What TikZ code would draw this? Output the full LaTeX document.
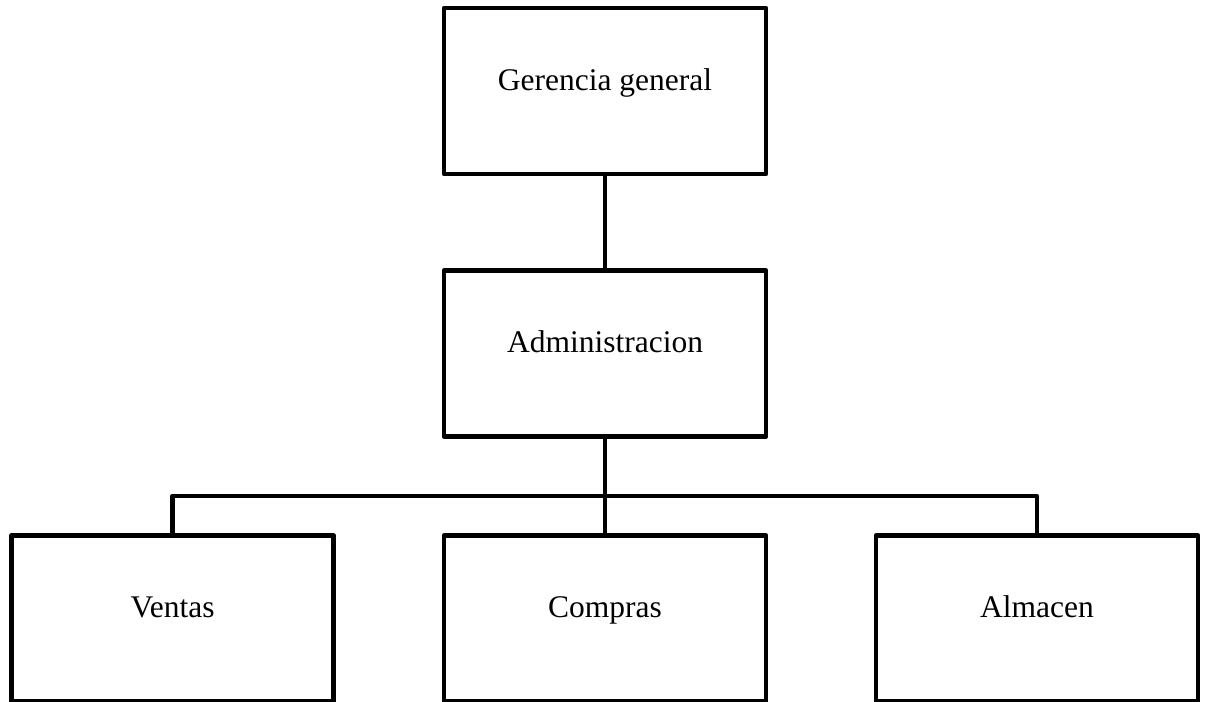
\documentclass[tikz,border=0pt]{standalone}
\usepackage{fontspec}
\setmainfont{Liberation Serif}
\begin{document}
\begin{tikzpicture}[x=1pt,y=-1pt,
  orgbox/.style={draw=black, line width=4.7pt, line join=round, minimum width=322pt, minimum height=166pt, inner sep=0pt},
  lbl/.style={font=\fontsize{31.5}{38}\selectfont, inner sep=0pt, anchor=base},
  conn/.style={draw=black, line width=4.7pt, line join=round}]
\useasboundingbox (0,0) rectangle (1206,701);
\node[orgbox] (g) at (605,91) {};
\node[orgbox] (a) at (605,353.5) {};
\node[orgbox] (v) at (172.5,618.5) {};
\node[orgbox] (c) at (605,618.5) {};
\node[orgbox] (al) at (1037,618.5) {};
\node[lbl] (gl) at ([yshift=1pt]g.center) {Gerencia general};
\node[lbl] (alb) at ([yshift=1pt]a.center) {Administracion};
\node[lbl] (vl) at ([yshift=1.5pt]v.center) {Ventas};
\node[lbl] (cl) at ([yshift=1.5pt]c.center) {Compras};
\node[lbl] (all) at ([yshift=1.5pt]al.center) {Almacen};
\coordinate (bus) at (605,496);
\draw[conn] (g.south) -- (a.north);
\draw[conn] (a.south) -- (c.north);
\draw[conn] (v.north) -- (v.north |- bus) -- (al.north |- bus) -- (al.north);
\end{tikzpicture}
\end{document}
